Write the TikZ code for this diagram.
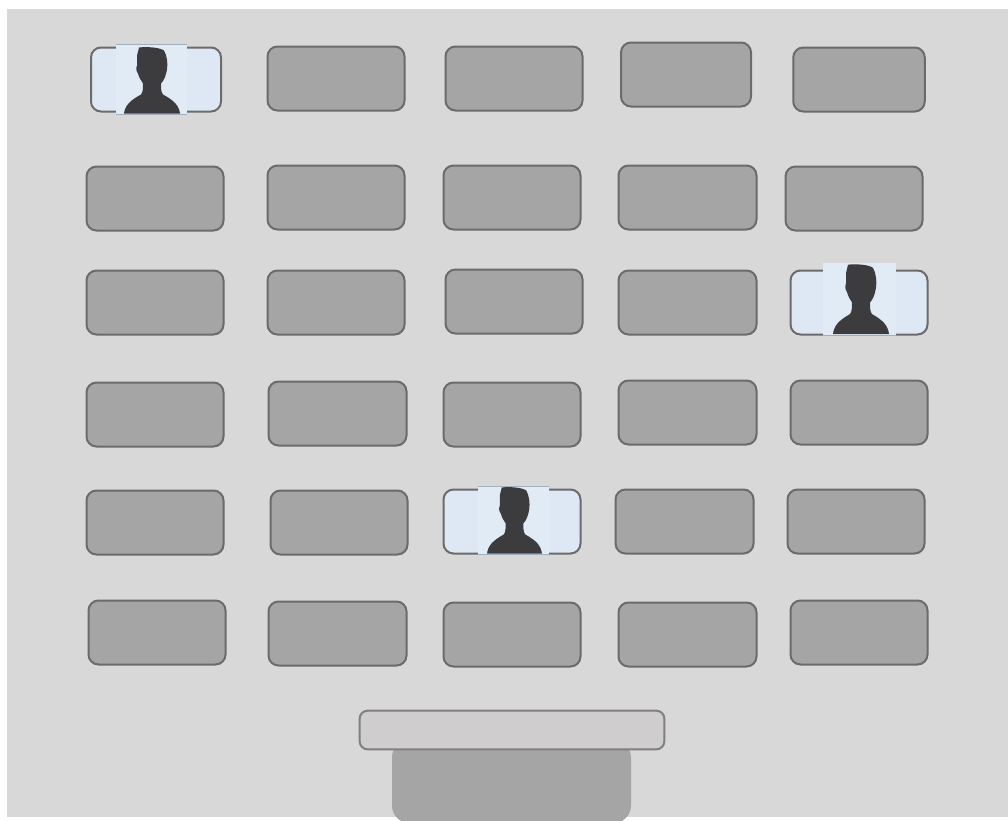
\documentclass[tikz,border=0pt]{standalone}
\usetikzlibrary{positioning}
\definecolor{roomcolor}{RGB}{216,216,216}
\definecolor{seatcolor}{RGB}{165,165,165}
\definecolor{edgecolor}{RGB}{108,106,106}
\definecolor{deskedge}{RGB}{128,128,128}
\definecolor{deskcolor}{RGB}{207,205,206}
\definecolor{filledcolor}{RGB}{221,232,244}
\definecolor{photocolor}{RGB}{225,235,245}
\definecolor{stripcolor}{RGB}{160,176,190}
\definecolor{personcolor}{RGB}{60,60,62}

\begin{document}
\begin{tikzpicture}[
	x=0.75pt,y=-0.75pt,
	seat/.style={
		draw=edgecolor,
		line width=1.5pt,
		rounded corners=7.5pt,
		fill=seatcolor,
		minimum height=48pt,
		inner sep=0pt
	},
	filled/.style={
		seat,
		fill=filledcolor
	},
	photo/.style={
		fill=photocolor,
		inner sep=0pt
	},
	desk/.style={
		draw=deskedge,
		line width=1.5pt,
		rounded corners=6pt,
		fill=deskcolor,
		minimum width=228.5pt,
		minimum height=29pt,
		inner sep=0pt
	},
	person/.pic={
		\fill[personcolor]
		(-28,0) .. controls (-27,-8) and (-22,-13) .. (-11,-19)
		.. controls (-9,-21) and (-9,-26) .. (-9,-30)
		.. controls (-11,-33) and (-13,-36) .. (-14,-40)
		.. controls (-16,-42) and (-16,-46) .. (-15,-48)
		-- (-15,-58) -- (-13,-66)
		.. controls (-5,-67) and (8,-66) .. (12,-63)
		.. controls (15,-58) and (16,-50) .. (15,-44)
		.. controls (14,-38) and (12,-33) .. (9,-30)
		.. controls (9,-26) and (9,-21) .. (11,-19)
		.. controls (22,-13) and (27,-8) .. (28,0)
		-- cycle;
	}
	]
	
	\useasboundingbox (0,0) rectangle (1008,821);
	
	% Room
	\fill[roomcolor] (7,9) rectangle (1008,817);
	
	% Empty seats
	\foreach \seatname/\cx/\cy/\seatw in {
		r1b/336/78.5/137, r1c/514/78.5/137, r1d/686/74.5/130, r1e/859/79.5/131.5,
		r2a/155/198.5/137, r2b/336/197.5/137, r2c/512/197.5/137, r2d/687.5/197.5/138, r2e/854/198.5/137,
		r3a/155/302.5/137, r3b/336/302.5/137, r3c/514/301.5/137, r3d/687.5/302.5/138,
		r4a/155/414.5/137, r4b/337.5/413.5/138, r4c/512/414.5/137, r4d/687.5/412.5/138, r4e/859/412.5/137,
		r5a/155/522.5/137, r5b/339/522.5/137, r5d/684.5/521.5/138, r5e/856/521.5/137,
		r6a/157/632.5/137, r6b/337.5/633.5/138, r6c/512/634.5/137, r6d/687.5/634.5/138, r6e/859/632.5/137}
	{
		\node[seat,minimum width=\seatw*0.75pt] (\seatname) at (\cx,\cy) {};
	}
	
	% Occupied seats
	\node[filled,minimum width=130pt*0.75] (r1a) at (156,79.5) {};
	\node[filled,minimum width=137pt*0.75] (r3e) at (859,302.5) {};
	\node[filled,minimum width=137pt*0.75] (r5c) at (512,521.5) {};
	
	% Photos
	\node[photo,minimum width=53pt,minimum height=51.5pt] (photoa) at (151.5,79.5) {};
	\node[photo,minimum width=54.5pt,minimum height=54pt] (photob) at (859.5,299) {};
	\node[photo,minimum width=53pt,minimum height=50pt] (photoc) at (513.5,520.5) {};
	
	\draw[stripcolor,line width=0.75pt] (photoa.north west) -- (photoa.north east);
	\draw[stripcolor,line width=0.75pt] (photoa.south west) -- (photoa.south east);
	\draw[stripcolor,line width=0.75pt] (photob.south west) -- (photob.south east);
	\draw[stripcolor,line width=0.75pt] (photoc.north west) -- (photoc.north east);
	\draw[stripcolor,line width=0.75pt] (photoc.south west) -- (photoc.south east);
	
	% People
	\pic (persona) at (152,113.5) {person};
	\pic[yscale=1.05] (personb) at (861,334) {person};
	\pic[xscale=0.98] (personc) at (514.5,553.5) {person};
	
	% Teacher's chair
	\fill[seatcolor,rounded corners=13pt] (392,740) -- (392,823) -- (631,823) -- (631,740) -- cycle;
	
	% Desk
	\node[desk] (desk) at (512,730) {};
	
\end{tikzpicture}
\end{document}
